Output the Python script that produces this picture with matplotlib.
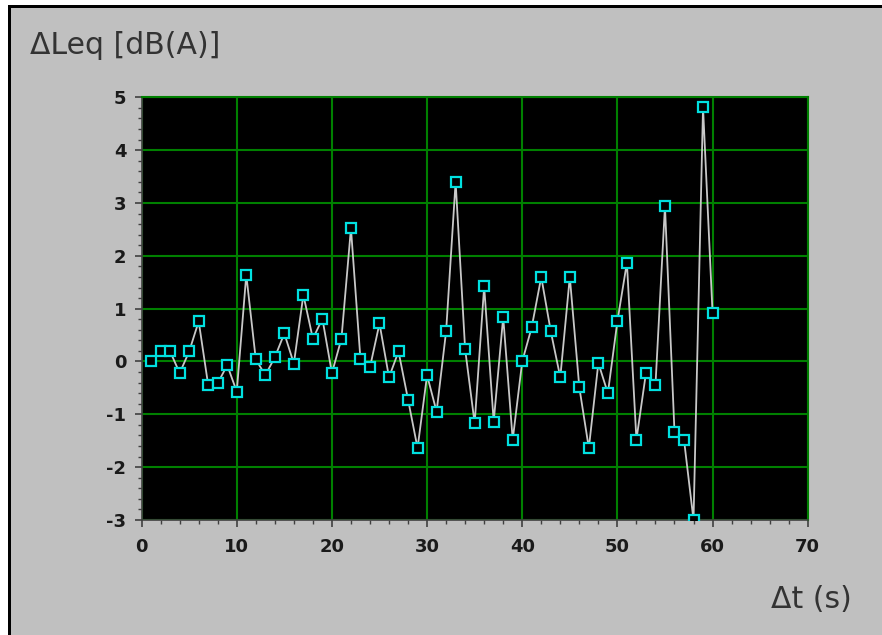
import matplotlib
matplotlib.use("Agg")
import matplotlib.pyplot as plt
from matplotlib.patches import Rectangle
from matplotlib.ticker import MultipleLocator

plt.rcParams["axes.unicode_minus"] = False

# time offset (s) and level difference (dB(A))
t_sec = list(range(1, 61))
delta_leq = [
    0.00, 0.19, 0.19, -0.22, 0.19, 0.76, -0.45, -0.41, -0.07, -0.57,
    1.64, 0.04, -0.26, 0.08, 0.53, -0.04, 1.26, 0.43, 0.81, -0.22,
    0.43, 2.52, 0.04, -0.11, 0.72, -0.30, 0.19, -0.72, -1.64, -0.26,
    -0.95, 0.57, 3.40, 0.23, -1.17, 1.42, -1.14, 0.84, -1.48, 0.00,
    0.65, 1.60, 0.57, -0.30, 1.60, -0.49, -1.64, -0.03, -0.60, 0.76,
    1.87, -1.48, -0.22, -0.45, 2.94, -1.33, -1.48, -3.00, 4.81, 0.92,
]
x_ticks = [0, 10, 20, 30, 40, 50, 60, 70]
y_ticks = [-3, -2, -1, 0, 1, 2, 3, 4, 5]

W, H = 882, 635
fig = plt.figure(figsize=(W / 100, H / 100), dpi=100, facecolor="white")

# gray panel with a black edge on the left and top
fig.patches.append(Rectangle((11 / W, 0), 1 - 11 / W, 1 - 8 / H, transform=fig.transFigure,
                             facecolor="#c0c0c0", edgecolor="none", zorder=-2))
fig.patches.append(Rectangle((8 / W, 0), 3 / W, 1 - 5 / H, transform=fig.transFigure,
                             facecolor="black", edgecolor="none", zorder=-1))
fig.patches.append(Rectangle((8 / W, 1 - 8 / H), 1 - 8 / W, 3 / H, transform=fig.transFigure,
                             facecolor="black", edgecolor="none", zorder=-1))

left, right, top, bottom = 141.6, 807.7, 97.3, 520
ax = fig.add_axes([left / W, 1 - bottom / H, (right - left) / W, (bottom - top) / H])
ax.set_facecolor("black")

ax.plot(t_sec, delta_leq, color="#c8c8c8", linewidth=1.3, zorder=3)
ax.plot(t_sec, delta_leq, linestyle="none", marker="s", markersize=6.5,
        markerfacecolor="black", markeredgecolor="#00e0e0", markeredgewidth=1.6,
        zorder=4)

ax.set_xlim(0, 70)
ax.set_ylim(-3, 5)
ax.set_xticks(x_ticks)
ax.set_yticks(y_ticks)
ax.xaxis.set_minor_locator(MultipleLocator(2))
ax.yaxis.set_minor_locator(MultipleLocator(0.2))

ax.grid(True, which="major", color="#008000", linewidth=1.5)
ax.set_axisbelow(True)

for side in ("top", "right"):
    ax.spines[side].set_color("#008000")
    ax.spines[side].set_linewidth(1.5)
for side in ("left", "bottom"):
    ax.spines[side].set_color("#404040")
    ax.spines[side].set_linewidth(1.2)

ax.tick_params(which="major", direction="out", length=5, width=1.2, color="#404040",
               labelsize=13, labelcolor="#1a1a1a")
ax.tick_params(axis="x", which="major", pad=8)
ax.tick_params(axis="y", which="major", pad=6)
ax.tick_params(which="minor", direction="out", length=3, width=1, color="#404040")
for lab in ax.get_xticklabels() + ax.get_yticklabels():
    lab.set_fontweight("bold")

fig.text(30 / W, 1 - 45 / H, "\u0394Leq [dB(A)]", fontsize=21.5, color="#333333",
         ha="left", va="center")
fig.text(852 / W, 1 - 600 / H, "\u0394t (s)", fontsize=21.5, color="#333333",
         ha="right", va="center")

fig.savefig("out.png", dpi=100, facecolor=fig.get_facecolor())
